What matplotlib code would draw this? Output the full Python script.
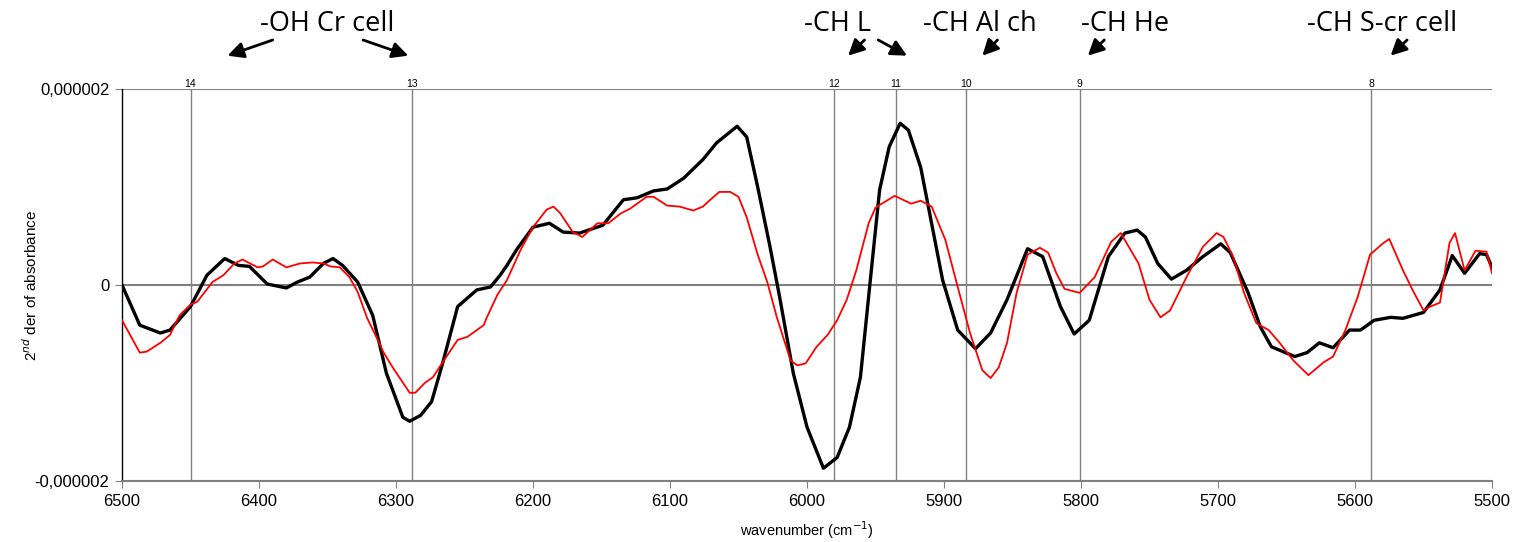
import numpy as np
import matplotlib
matplotlib.use("Agg")
import matplotlib.pyplot as plt

# wavenumber (cm-1) and 2nd derivative values (x 1e-6)
wn_black = [6500, 6487, 6472, 6465, 6450, 6438, 6425, 6415, 6407, 6394, 6380, 6372,
            6363, 6353, 6346, 6339, 6328, 6317, 6307, 6295, 6290, 6282, 6274, 6266,
            6255, 6241, 6231, 6224, 6219, 6212, 6200, 6188, 6178, 6166, 6149, 6134,
            6124, 6112, 6102, 6090, 6076, 6066, 6051, 6044, 6036, 6027, 6020, 6010,
            6000, 5988, 5978, 5969, 5961, 5954, 5947, 5940, 5932, 5926, 5917, 5901,
            5890, 5877, 5866, 5854, 5839, 5828, 5815, 5805, 5794, 5780, 5768, 5759,
            5753, 5744, 5734, 5723, 5711, 5698, 5691, 5678, 5669, 5661, 5644, 5635,
            5626, 5616, 5604, 5596, 5586, 5574, 5565, 5550, 5538, 5529, 5520, 5509,
            5504, 5500]
val_black = [0.00, -0.41, -0.49, -0.46, -0.22, 0.10, 0.27, 0.20, 0.19, 0.01, -0.03, 0.03,
             0.08, 0.22, 0.27, 0.20, 0.03, -0.31, -0.90, -1.35, -1.39, -1.33, -1.19, -0.80,
             -0.22, -0.05, -0.02, 0.10, 0.20, 0.36, 0.59, 0.63, 0.54, 0.53, 0.61, 0.87,
             0.89, 0.96, 0.98, 1.09, 1.28, 1.45, 1.62, 1.51, 1.00, 0.39, -0.12, -0.90,
             -1.45, -1.87, -1.76, -1.45, -0.94, 0.02, 0.97, 1.41, 1.65, 1.58, 1.20, 0.05,
             -0.46, -0.65, -0.49, -0.15, 0.37, 0.29, -0.22, -0.50, -0.36, 0.29, 0.53, 0.56,
             0.49, 0.22, 0.06, 0.15, 0.29, 0.42, 0.33, -0.08, -0.43, -0.63, -0.73, -0.69,
             -0.59, -0.64, -0.46, -0.46, -0.36, -0.33, -0.34, -0.28, -0.05, 0.30, 0.12, 0.32,
             0.31, 0.18]

wn_red = [6500, 6487, 6482, 6472, 6465, 6458, 6450, 6445, 6434, 6426, 6418, 6412,
          6401, 6397, 6390, 6380, 6370, 6361, 6353, 6348, 6341, 6334, 6328, 6321,
          6314, 6309, 6302, 6290, 6286, 6279, 6273, 6266, 6255, 6248, 6236, 6234,
          6226, 6219, 6209, 6200, 6190, 6185, 6180, 6171, 6164, 6153, 6145, 6136,
          6129, 6117, 6112, 6102, 6093, 6083, 6076, 6069, 6064, 6056, 6050, 6044,
          6036, 6029, 6022, 6012, 6007, 6001, 5993, 5985, 5978, 5971, 5964, 5955,
          5950, 5936, 5924, 5917, 5909, 5899, 5890, 5881, 5872, 5866, 5860, 5854,
          5847, 5839, 5830, 5824, 5818, 5812, 5801, 5790, 5778, 5771, 5758, 5750,
          5742, 5735, 5723, 5711, 5701, 5696, 5689, 5681, 5672, 5663, 5655, 5645,
          5634, 5623, 5616, 5607, 5598, 5589, 5580, 5575, 5565, 5558, 5550, 5545,
          5538, 5531, 5527, 5520, 5512, 5504, 5500]
val_red = [-0.36, -0.69, -0.68, -0.59, -0.51, -0.31, -0.20, -0.17, 0.03, 0.10, 0.22, 0.26,
           0.18, 0.19, 0.26, 0.18, 0.22, 0.23, 0.22, 0.19, 0.18, 0.08, -0.07, -0.34,
           -0.54, -0.69, -0.85, -1.10, -1.10, -1.00, -0.94, -0.79, -0.56, -0.53, -0.41, -0.34,
           -0.10, 0.05, 0.36, 0.59, 0.77, 0.80, 0.73, 0.54, 0.49, 0.63, 0.63, 0.73,
           0.78, 0.90, 0.90, 0.81, 0.80, 0.76, 0.80, 0.89, 0.95, 0.95, 0.90, 0.69,
           0.31, 0.03, -0.33, -0.77, -0.82, -0.80, -0.63, -0.51, -0.36, -0.15, 0.15, 0.63,
           0.79, 0.91, 0.83, 0.86, 0.80, 0.46, -0.02, -0.49, -0.87, -0.95, -0.84, -0.59,
           -0.08, 0.31, 0.38, 0.33, 0.12, -0.04, -0.08, 0.08, 0.44, 0.53, 0.22, -0.15,
           -0.33, -0.26, 0.08, 0.39, 0.53, 0.49, 0.29, -0.08, -0.39, -0.46, -0.59, -0.77,
           -0.92, -0.79, -0.73, -0.46, -0.12, 0.31, 0.42, 0.47, 0.15, -0.05, -0.26, -0.22,
           -0.18, 0.43, 0.53, 0.15, 0.35, 0.34, 0.12]

# numbered vertical marker lines
marker_wn = [6450, 6288, 5980, 5935, 5884, 5801, 5588]
marker_lbl = ["14", "13", "12", "11", "10", "9", "8"]

# band labels and where their centres sit (wavenumber)
band_text = ["-OH Cr cell", "-CH L", "-CH Al ch", "-CH He", "-CH S-cr cell"]
band_text_wn = [6350, 5978, 5874, 5768, 5580]

# arrows: (tail wn, tip wn)
arrow_wn = [(6390, 6423), (6324, 6291), (5958, 5970), (5948, 5927),
            (5861, 5872), (5783, 5795), (5562, 5574)]


def main():
    scale = 1e-6
    fig = plt.figure(figsize=(15.16, 5.42), dpi=100)
    ax = fig.add_axes([122 / 1516, 1 - 481 / 542, 1370 / 1516, 392 / 542])

    gray = "#808080"
    for w, lbl in zip(marker_wn, marker_lbl):
        ax.axvline(w, color=gray, lw=1.0, zorder=1)
        ax.text(w, 2.0e-6, lbl, ha="center", va="bottom", fontsize=7.5,
                family="Liberation Sans")
    ax.axhline(0, color=gray, lw=1.5, zorder=1)
    ax.axhline(2e-6, color=gray, lw=1.5, zorder=1)

    ax.plot(wn_red, np.array(val_red) * scale, color="#ff0000", lw=1.3, zorder=3)
    ax.plot(wn_black, np.array(val_black) * scale, color="black", lw=2.4, zorder=2)

    ax.set_xlim(6500, 5500)
    ax.set_ylim(-2e-6, 2e-6)
    ax.set_xticks(np.arange(6500, 5499, -100))
    ax.set_xticklabels([str(t) for t in range(6500, 5499, -100)])
    ax.set_yticks([-2e-6, 0, 2e-6])
    ax.set_yticklabels(["-0,000002", "0", "0,000002"])
    for s in ["top", "right"]:
        ax.spines[s].set_visible(False)
    ax.spines["bottom"].set_color(gray)
    ax.spines["bottom"].set_linewidth(1.5)
    ax.spines["left"].set_color("black")
    ax.spines["left"].set_linewidth(1.0)
    ax.tick_params(axis="both", labelsize=12, length=5, color=gray, pad=4)
    for t in ax.get_xticklabels() + ax.get_yticklabels():
        t.set_family("Liberation Sans")
    ax.set_xlabel("wavenumber (cm$^{-1}$)", fontsize=10.5, family="Liberation Sans",
                  labelpad=8)
    ax.set_ylabel("2$^{nd}$ der of absorbance", fontsize=11, family="Liberation Sans",
                  labelpad=-4)

    # band labels
    ty = 2.66e-6
    for txt, w in zip(band_text, band_text_wn):
        ax.text(w, ty, txt, ha="center", va="center", fontsize=19.5,
                family="Open Sans", clip_on=False)

    for tail, tip in arrow_wn:
        ax.annotate("", xy=(tip, 2.34e-6), xytext=(tail, 2.50e-6), xycoords="data",
                    arrowprops=dict(arrowstyle="-|>", color="black", lw=2,
                                    mutation_scale=24, shrinkA=0, shrinkB=0),
                    annotation_clip=False)

    fig.savefig("out.png", dpi=100)


if __name__ == "__main__":
    main()
